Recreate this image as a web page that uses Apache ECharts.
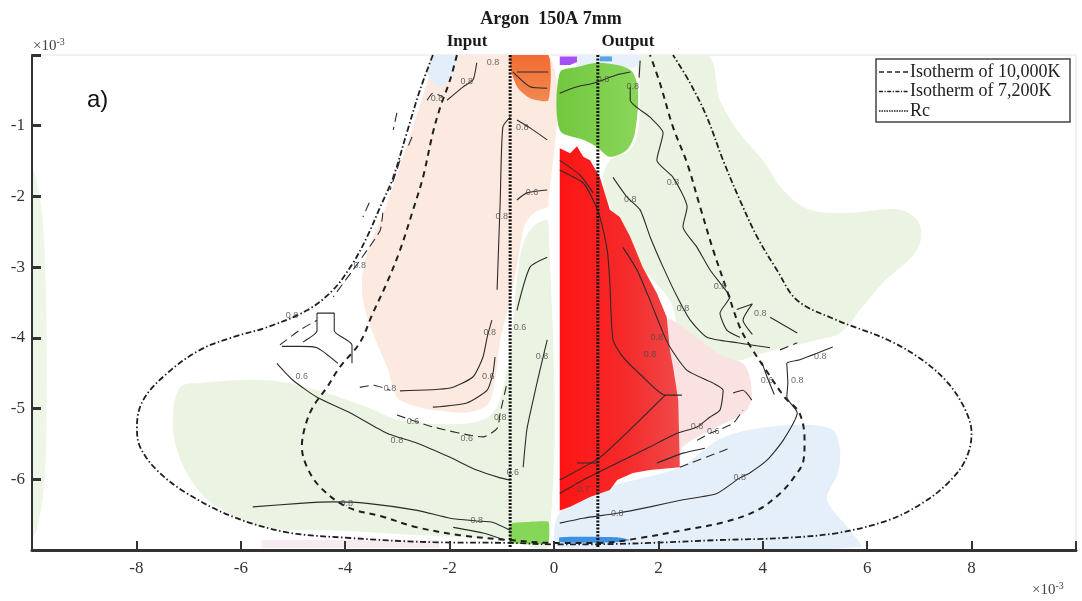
<!DOCTYPE html>
<html><head><meta charset="utf-8">
<script src="https://cdn.jsdelivr.net/npm/echarts@6/dist/echarts.min.js"></script>
<style>html,body{margin:0;padding:0;background:#fff}#c{width:1082px;height:601px}</style>
</head><body><div id="c"></div>
<script>
// ---------- axis ticks ----------
const xTickLabels = [-8, -6, -4, -2, 0, 2, 4, 6, 8];
const yTickLabels = [-1, -2, -3, -4, -5, -6];

// ---------- isotherms & Rc (x, y in 1e-3 m) ----------
const iso10000 = [[-1.86,0],[-1.99,-0.35],[-2.18,-0.74],[-2.32,-1.10],[-2.51,-1.73],[-2.70,-2.19],[-2.95,-2.76],[-3.20,-3.22],[-3.47,-3.65],[-3.72,-4.07],[-4.10,-4.41],[-4.35,-4.70],[-4.62,-4.98],[-4.77,-5.26],[-4.83,-5.54],[-4.73,-5.83],[-4.48,-6.11],[-3.97,-6.39],[-3.28,-6.53],[-2.62,-6.68],[-1.80,-6.79],[-0.84,-6.86],[0,-6.90],[0.88,-6.90],[1.65,-6.83],[2.47,-6.72],[3.24,-6.61],[3.89,-6.44],[4.33,-6.20],[4.60,-5.97],[4.78,-5.73],[4.80,-5.45],[4.70,-5.06],[4.42,-4.84],[4.10,-4.50],[3.77,-4.13],[3.56,-3.85],[3.31,-3.32],[3.05,-2.76],[2.80,-2.15],[2.55,-1.53],[2.28,-1.02],[2.03,-0.40],[1.84,0]];
const iso7200 = [[-2.32,0],[-2.57,-0.50],[-2.82,-1.10],[-3.08,-1.73],[-3.33,-2.15],[-3.58,-2.57],[-3.85,-2.94],[-4.23,-3.32],[-4.73,-3.61],[-5.50,-3.85],[-6.15,-3.99],[-6.78,-4.17],[-7.41,-4.50],[-7.87,-4.88],[-7.99,-5.26],[-7.93,-5.54],[-7.61,-5.87],[-7.03,-6.20],[-6.15,-6.53],[-5.11,-6.75],[-3.91,-6.83],[-2.32,-6.89],[-0.84,-6.90],[0,-6.92],[0.56,-6.92],[1.84,-6.90],[3.12,-6.86],[4.39,-6.83],[5.42,-6.76],[6.40,-6.58],[7.05,-6.34],[7.55,-6.05],[7.88,-5.73],[8.0,-5.35],[7.88,-5.02],[7.55,-4.64],[7.05,-4.31],[6.40,-4.03],[5.42,-3.75],[4.66,-3.47],[4.27,-3.04],[3.89,-2.57],[3.56,-2.05],[3.24,-1.49],[2.93,-0.88],[2.61,-0.40],[2.28,0]];
const rcLeft = [[-0.84,0],[-0.84,-6.97]];
const rcRight = [[0.84,0],[0.84,-6.97]];

// ---------- filled regions ----------
const regionGreenEdge = [[-10,-1.63],[-9.83,-2.1],[-9.74,-3.2],[-9.72,-4.9],[-9.76,-6.0],[-9.9,-6.7],[-10,-6.8]];
const regionGreenLeft = [[-7.16,-4.70],[-6.78,-4.64],[-5.50,-4.60],[-4.54,-4.74],[-3.58,-4.98],[-2.95,-5.16],[-1.67,-5.21],[-1.17,-5.06],[-0.94,-4.60],[-0.80,-3.89],[-0.69,-3.04],[-0.56,-2.62],[-0.36,-2.40],[-0.11,-2.36],[-0.11,-6.93],[-0.84,-6.86],[-2.32,-6.80],[-4.23,-6.72],[-5.50,-6.68],[-6.46,-6.39],[-6.92,-6.05],[-7.22,-5.59],[-7.30,-5.12]];
const regionPinkLeft = [[-2.24,0],[-0.11,0],[-0.11,-2.12],[-0.36,-2.22],[-0.56,-2.40],[-0.69,-2.90],[-0.84,-3.47],[-1.03,-4.03],[-1.13,-4.60],[-1.28,-4.95],[-1.80,-5.06],[-2.95,-4.88],[-3.20,-4.41],[-3.47,-3.93],[-3.66,-3.47],[-3.66,-3.04],[-3.49,-2.62],[-3.24,-2.19],[-2.95,-1.56],[-2.66,-0.92],[-2.41,-0.35]];
const regionBlueTopLeft = [[-2.32,0],[-1.86,0],[-1.95,-0.30],[-2.20,-0.45],[-2.42,-0.25]];
const regionOrange = [[-0.84,0],[-0.11,0],[-0.11,-0.64],[-0.46,-0.61],[-0.69,-0.47],[-0.80,-0.28],[-0.84,-0.14]];
const regionGreenBottomLeft = [[-0.80,-6.62],[-0.11,-6.60],[-0.11,-6.90],[-0.84,-6.90],[-0.84,-6.66]];
const regionFaintBottomLeft = [[-5.6,-6.86],[-2.2,-6.86],[-2.2,-6.97],[-5.6,-6.97]];
const regionPaleBlueTop = [[0.44,0],[1.65,0],[1.55,-0.18],[0.44,-0.16]];
const regionPurple = [[0.11,-0.02],[0.44,-0.02],[0.44,-0.10],[0.31,-0.14],[0.11,-0.14]];
const regionBlueTop = [[0.88,-0.02],[1.11,-0.02],[1.11,-0.09],[0.88,-0.09]];
const regionPaleGreenRight = [[1.65,0],[2.93,0],[3.18,-0.64],[3.51,-1.06],[4.00,-1.49],[4.39,-1.91],[4.90,-2.19],[5.67,-2.23],[6.63,-2.19],[7.01,-2.40],[6.95,-2.76],[6.30,-3.22],[5.86,-3.61],[5.48,-3.93],[5.04,-4.03],[4.08,-4.20],[3.37,-4.34],[2.80,-4.24],[2.41,-3.89],[2.22,-3.47],[1.70,-3.00],[1.46,-2.57],[1.11,-2.19],[0.94,-1.77],[1.07,-1.49],[1.46,-1.34],[1.61,-1.06],[1.65,-0.50]];
const regionPinkRight = [[2.16,-3.75],[2.80,-4.03],[3.18,-4.24],[3.66,-4.39],[3.79,-4.81],[3.66,-5.05],[3.12,-5.26],[2.47,-5.54],[2.41,-5.76],[2.32,-4.88]];
const regionLightBlue = [[0.11,-6.47],[1.07,-6.11],[2.41,-5.83],[3.12,-5.45],[3.75,-5.30],[4.71,-5.23],[5.34,-5.30],[5.48,-5.59],[5.44,-5.91],[5.23,-6.29],[5.67,-6.72],[5.86,-6.96],[0.11,-6.96]];
const regionRed = [[0.11,-1.32],[0.31,-1.39],[0.44,-1.29],[0.56,-1.44],[0.69,-1.49],[0.88,-1.73],[1.07,-2.19],[1.26,-2.29],[1.46,-2.57],[1.70,-3.00],[1.97,-3.37],[2.16,-3.71],[2.22,-4.17],[2.28,-4.41],[2.38,-4.88],[2.41,-5.83],[1.84,-5.87],[1.51,-5.91],[1.21,-6.01],[1.07,-6.15],[0.69,-6.25],[0.31,-6.39],[0.11,-6.44]];
const regionGreenTopRight = [[0.11,-0.25],[0.44,-0.17],[0.88,-0.11],[1.46,-0.21],[1.61,-0.50],[1.55,-1.10],[1.40,-1.34],[1.07,-1.44],[0.82,-1.30],[0.56,-1.20],[0.11,-1.06]];
const regionBlueStripe = [[0.11,-6.82],[1.21,-6.82],[1.45,-6.86],[1.21,-6.89],[0.11,-6.89]];

// ---------- contour lines ----------
const contoursSolid = [
 [[-5.31,-4.36],[-5.00,-4.60],[-4.54,-4.84],[-3.91,-5.06],[-3.20,-5.35],[-2.62,-5.49],[-1.99,-5.69],[-1.48,-5.87],[-1.03,-5.98],[-0.84,-6.01]],
 [[-5.77,-6.39],[-4.87,-6.34],[-4.23,-6.32],[-3.58,-6.34],[-2.62,-6.44],[-1.99,-6.55],[-1.48,-6.59],[-1.17,-6.61],[-0.84,-6.72]],
 [[-1.93,-6.68],[-1.36,-6.76],[-0.94,-6.86]],
 [[-2.95,-4.75],[-1.99,-4.71],[-1.55,-4.55],[-1.36,-4.27],[-1.28,-3.99],[-1.19,-3.75]],
 [[-2.32,-4.98],[-1.67,-4.92],[-1.28,-4.74],[-1.17,-4.50],[-1.13,-4.27]],
 [[-0.59,-5.83],[-0.52,-5.30],[-0.40,-4.88],[-0.27,-4.46],[-0.13,-4.03]],
 [[-0.71,-3.61],[-0.46,-3.00],[-0.13,-2.86]],
 [[-1.09,-3.32],[-1.03,-2.05],[-0.98,-1.02],[-0.84,-0.88]],
 [[-0.71,-0.92],[-0.46,-1.03],[-0.13,-1.20]],
 [[-0.71,-2.05],[-0.52,-1.95],[-0.13,-1.91]],
 [[-2.05,-0.64],[-1.74,-0.45],[-1.55,-0.35],[-1.48,-0.11]],
 [[-0.79,-0.24],[-0.46,-0.45],[-0.13,-0.47]],
 [[-0.71,-0.24],[-0.11,-0.24]],
 [[-4.54,-3.65],[-4.21,-3.65],[-4.21,-3.90],[-3.87,-4.10],[-3.87,-4.36]],
 [[-4.54,-3.65],[-4.54,-3.90],[-4.81,-4.06]],
 [[-5.21,-4.12],[-4.87,-4.12],[-4.54,-4.14],[-4.14,-4.36]],
 [[0.11,-0.54],[0.44,-0.45],[0.75,-0.40],[1.21,-0.28],[1.46,-0.24]],
 [[1.65,-0.08],[1.63,-0.32]],
 [[1.46,-0.45],[1.46,-0.64],[1.84,-0.88],[2.09,-1.10],[1.97,-1.49],[2.28,-1.73],[2.55,-2.15],[2.47,-2.43],[2.74,-2.72],[2.99,-3.04],[3.24,-3.28],[3.37,-3.42],[3.18,-3.65],[3.31,-3.89],[3.56,-3.99]],
 [[3.50,-3.60],[3.80,-3.52],[3.62,-3.75],[3.80,-3.95]],
 [[4.14,-3.71],[4.66,-3.93]],
 [[1.13,-1.73],[1.40,-2.01],[1.65,-2.19],[1.84,-2.57],[2.09,-3.00],[2.36,-3.42],[2.61,-3.75],[2.93,-3.99],[3.51,-4.07],[4.14,-4.14]],
 [[0.11,-1.63],[0.56,-1.81],[0.75,-2.05],[0.88,-2.29],[1.02,-2.76],[1.07,-3.22],[1.13,-4.03],[1.32,-4.27],[1.70,-4.55],[2.13,-4.81],[2.45,-4.81]],
 [[2.13,-4.81],[1.51,-5.26],[0.88,-5.69],[0.11,-6.01]],
 [[0.44,-5.77],[0.84,-5.77]],
 [[1.32,-2.72],[1.59,-3.04],[1.84,-3.47],[2.09,-3.93],[2.22,-4.13],[2.55,-4.46],[3.05,-4.64],[3.24,-4.74],[3.18,-5.02],[2.99,-5.12],[2.74,-5.26],[2.36,-5.35],[1.84,-5.54],[1.21,-5.77],[0.56,-6.01],[0.11,-6.20]],
 [[0.11,-1.49],[0.50,-1.70],[0.75,-1.95]],
 [[3.43,-4.78],[3.62,-4.74],[3.79,-4.88]],
 [[1.97,-5.77],[2.47,-5.63],[2.89,-5.56]],
 [[0.11,-6.62],[0.56,-6.55],[1.21,-6.48],[1.84,-6.39],[2.47,-6.29],[3.12,-6.20],[3.56,-5.98],[3.75,-5.91],[4.08,-5.73],[4.39,-5.45],[4.66,-5.06],[4.46,-4.84],[4.48,-4.64],[4.46,-4.36],[4.71,-4.31],[5.34,-4.13]],
 [[3.98,-4.34],[4.08,-4.55],[4.22,-4.80]]
];
const contoursDashed = [
 [[-3.72,-4.70],[-3.47,-4.67],[-3.14,-4.74]],
 [[-3.01,-5.09],[-2.32,-5.26],[-1.36,-5.40],[-1.09,-5.28],[-1.03,-5.06],[-0.90,-4.64]],
 [[-2.43,-0.64],[-2.32,-0.54],[-2.13,-0.59]],
 [[-3.28,-2.23],[-3.33,-2.48],[-3.58,-2.76],[-3.85,-3.04],[-4.23,-3.42]],
 [[-5.25,-4.10],[-4.87,-3.89],[-4.54,-3.75]],
 [[-3.01,-0.82],[-3.08,-1.06]],
 [[-2.72,-1.16],[-2.82,-1.34]],
 [[-2.95,-1.49],[-3.14,-1.91]],
 [[-3.54,-2.09],[-3.66,-2.29]],
 [[2.74,-5.45],[2.99,-5.35],[3.43,-5.21],[3.62,-5.02]],
 [[2.41,-5.83],[3.37,-5.56]],
 [[4.33,-4.17],[4.66,-4.07]]
];
const contourLabels = [
 [-3.01,-5.45,'0.8'],[-1.48,-6.59,'0.8'],[-3.97,-6.34,'0.8'],[-3.14,-4.72,'0.8'],[-2.70,-5.19,'0.6'],[-1.67,-5.42,'0.6'],
 [-1.03,-5.12,'0.8'],[-1.26,-4.55,'0.6'],[-1.23,-3.93,'0.8'],[-0.65,-3.85,'0.6'],[-0.23,-4.27,'0.8'],[-0.79,-5.91,'0.6'],
 [-4.83,-4.55,'0.6'],[-1.00,-2.29,'0.8'],[-0.61,-1.03,'0.8'],[-0.42,-1.95,'0.6'],[-2.24,-0.61,'0.8'],[-1.67,-0.38,'0.8'],
 [-3.72,-2.97,'0.8'],[-5.02,-3.68,'0.8'],[-1.17,-0.11,'0.8'],
 [0.94,-0.35,'0.8'],[1.51,-0.45,'0.8'],[2.28,-1.81,'0.8'],[1.46,-2.05,'0.8'],[3.18,-3.28,'0.8'],[2.47,-3.58,'0.8'],
 [3.95,-3.65,'0.8'],[1.97,-4.00,'0.8'],[1.84,-4.24,'0.8'],[2.74,-5.26,'0.8'],[3.05,-5.33,'0.6'],[5.10,-4.27,'0.8'],
 [4.66,-4.60,'0.8'],[4.08,-4.60,'0.6'],[3.56,-5.98,'0.8'],[1.21,-6.48,'0.8'],[0.56,-6.15,'0.7']
];

// ---------- chart ----------
const SERIF = '"Liberation Serif","DejaVu Serif",serif';
const chart = echarts.init(document.getElementById('c'), null, {width: 1082, height: 601});

function area(pts, fill, z, smooth) {
  return {
    type: 'custom', coordinateSystem: 'cartesian2d', silent: true, z: z, clip: true,
    data: [pts[0]],
    renderItem: function (params, api) {
      return {type: 'polygon', shape: {points: pts.map(p => api.coord(p)), smooth: smooth || 0}, style: {fill: fill}};
    }
  };
}
function curve(pts, style, z, smooth) {
  return {type: 'line', data: pts, showSymbol: false, symbol: 'none', silent: true, z: z,
    smooth: smooth, lineStyle: style, clip: true};
}

const series = [];
series.push(area(regionGreenEdge, '#eef6e7', 1, 0.4));
series.push(area(regionGreenLeft, '#ebf4e2', 1, 0.35));
series.push(area(regionPinkLeft, '#fce9df', 2, 0.3));
series.push(area(regionBlueTopLeft, '#e4eefa', 2, 0.3));
series.push(area(regionFaintBottomLeft, '#f7eaf1', 2, 0));
series.push(area(regionPaleBlueTop, '#e8f1fb', 2, 0.2));
series.push(area(regionPaleGreenRight, '#ebf4e2', 1, 0.35));
series.push(area(regionPinkRight, '#fbe2e2', 2, 0.3));
series.push(area(regionLightBlue, '#e5effa', 2, 0.3));
series.push(area(regionOrange, new echarts.graphic.LinearGradient(0, 0, 0, 1, [{offset: 0, color: '#f26a30'}, {offset: 1, color: '#f3884f'}]), 3, 0.2));
series.push(area(regionGreenBottomLeft, '#86d657', 3, 0.1));
series.push(area(regionPurple, '#a64ff2', 3, 0));
series.push(area(regionBlueTop, '#5aa2e8', 3, 0));
series.push(area(regionRed, new echarts.graphic.LinearGradient(0, 0, 1, 0, [{offset: 0, color: '#ff1414'}, {offset: 0.55, color: '#f52a2a'}, {offset: 1, color: '#f04a4a'}]), 3, 0));
series.push(area(regionGreenTopRight, new echarts.graphic.LinearGradient(0, 0, 1, 0, [{offset: 0, color: '#72c83e'}, {offset: 1, color: '#8ad65a'}]), 3, 0.3));
series.push(area(regionBlueStripe, '#3d91e3', 3, 0.2));

contoursSolid.forEach(c => series.push(curve(c, {color: '#2b2b2b', width: 1.1}, 5, 0.2)));
contoursDashed.forEach(c => series.push(curve(c, {color: '#2b2b2b', width: 1.1, type: [9, 5]}, 5, 0.2)));

series.push(curve(iso10000, {color: '#1f1f1f', width: 2, type: [6, 5]}, 6, 0.35));
series.push(curve(iso7200, {color: '#1f1f1f', width: 1.8, type: [6, 2.5, 1.5, 2.5]}, 6, 0.35));
series.push(curve(rcLeft, {color: '#111', width: 3, type: [2, 1.5]}, 6, 0));
series.push(curve(rcRight, {color: '#111', width: 3, type: [2, 1.5]}, 6, 0));

series.push({
  type: 'scatter', data: contourLabels, symbolSize: 1, silent: true, z: 7,
  itemStyle: {color: 'rgba(0,0,0,0)'},
  label: {show: true, position: 'inside', formatter: p => p.value[2], fontSize: 9,
    color: '#484848', fontFamily: '"Liberation Sans",sans-serif'}
});

const legendRows = [
  {text: 'Isotherm of 10,000K', type: [5, 3], width: 1.5},
  {text: 'Isotherm of 7,200K', type: [4, 1.5, 1.2, 1.5], width: 1.5},
  {text: 'Rc', type: [1.5, 1], width: 1.5}
];
const graphics = [
  {type: 'text', x: 551, y: 19, style: {text: 'Argon  150A 7mm', font: 'bold 18px ' + SERIF, fill: '#1a1a1a', align: 'center', verticalAlign: 'middle'}},
  {type: 'text', x: 467, y: 42, style: {text: 'Input', font: 'bold 17px ' + SERIF, fill: '#1a1a1a', align: 'center', verticalAlign: 'middle'}},
  {type: 'text', x: 628, y: 42, style: {text: 'Output', font: 'bold 17px ' + SERIF, fill: '#1a1a1a', align: 'center', verticalAlign: 'middle'}},
  {type: 'text', x: 87, y: 100, z: 10, style: {text: 'a)', font: '24px "Liberation Sans","Open Sans",sans-serif', fill: '#111', verticalAlign: 'middle'}},
  {type: 'text', x: 33, y: 46, style: {text: '×10{s|-3}', font: '15px ' + SERIF, fill: '#444', verticalAlign: 'middle',
    rich: {s: {fontSize: 10, fontFamily: SERIF, fill: '#444', verticalAlign: 'top', padding: [0, 0, 8, 0]}}}},
  {type: 'text', x: 1032, y: 590, style: {text: '×10{s|-3}', font: '15px ' + SERIF, fill: '#444', verticalAlign: 'middle',
    rich: {s: {fontSize: 10, fontFamily: SERIF, fill: '#444', verticalAlign: 'top', padding: [0, 0, 8, 0]}}}},
  {type: 'rect', shape: {x: 876, y: 59, width: 194, height: 63}, z: 20, style: {fill: '#fff', stroke: '#444', lineWidth: 1.5}}
];
legendRows.forEach((r, i) => {
  const y = 72 + i * 19.5;
  graphics.push({type: 'line', z: 21, shape: {x1: 879, y1: y, x2: 909, y2: y}, style: {stroke: '#222', lineWidth: r.width, lineDash: r.type}});
  graphics.push({type: 'text', z: 21, x: 910, y: y, style: {text: r.text, font: '18px ' + SERIF, fill: '#222', verticalAlign: 'middle'}});
});

chart.setOption({
  animation: false,
  backgroundColor: '#fff',
  grid: {left: 32, right: 6, top: 55, bottom: 51, show: true, borderColor: '#e2e2e2', borderWidth: 1, containLabel: false},
  xAxis: {
    type: 'value', min: -10, max: 10, interval: 2, z: 8,
    axisLine: {show: true, onZero: false, lineStyle: {color: '#333', width: 3}},
    axisTick: {show: true, inside: true, length: 9, lineStyle: {color: '#333', width: 2}},
    axisLabel: {formatter: v => xTickLabels.includes(v) ? String(v) : '', fontFamily: SERIF, fontSize: 17, color: '#333', margin: 10},
    splitLine: {show: false}
  },
  yAxis: {
    type: 'value', min: -7, max: 0, interval: 1, z: 8,
    axisLine: {show: true, onZero: false, lineStyle: {color: '#333', width: 2}},
    axisTick: {show: true, inside: true, length: 9, lineStyle: {color: '#333', width: 3}},
    axisLabel: {formatter: v => yTickLabels.includes(v) ? String(v) : '', fontFamily: SERIF, fontSize: 17, color: '#333', margin: 7},
    splitLine: {show: false}
  },
  graphic: graphics,
  series: series
});
</script>
</body></html>
